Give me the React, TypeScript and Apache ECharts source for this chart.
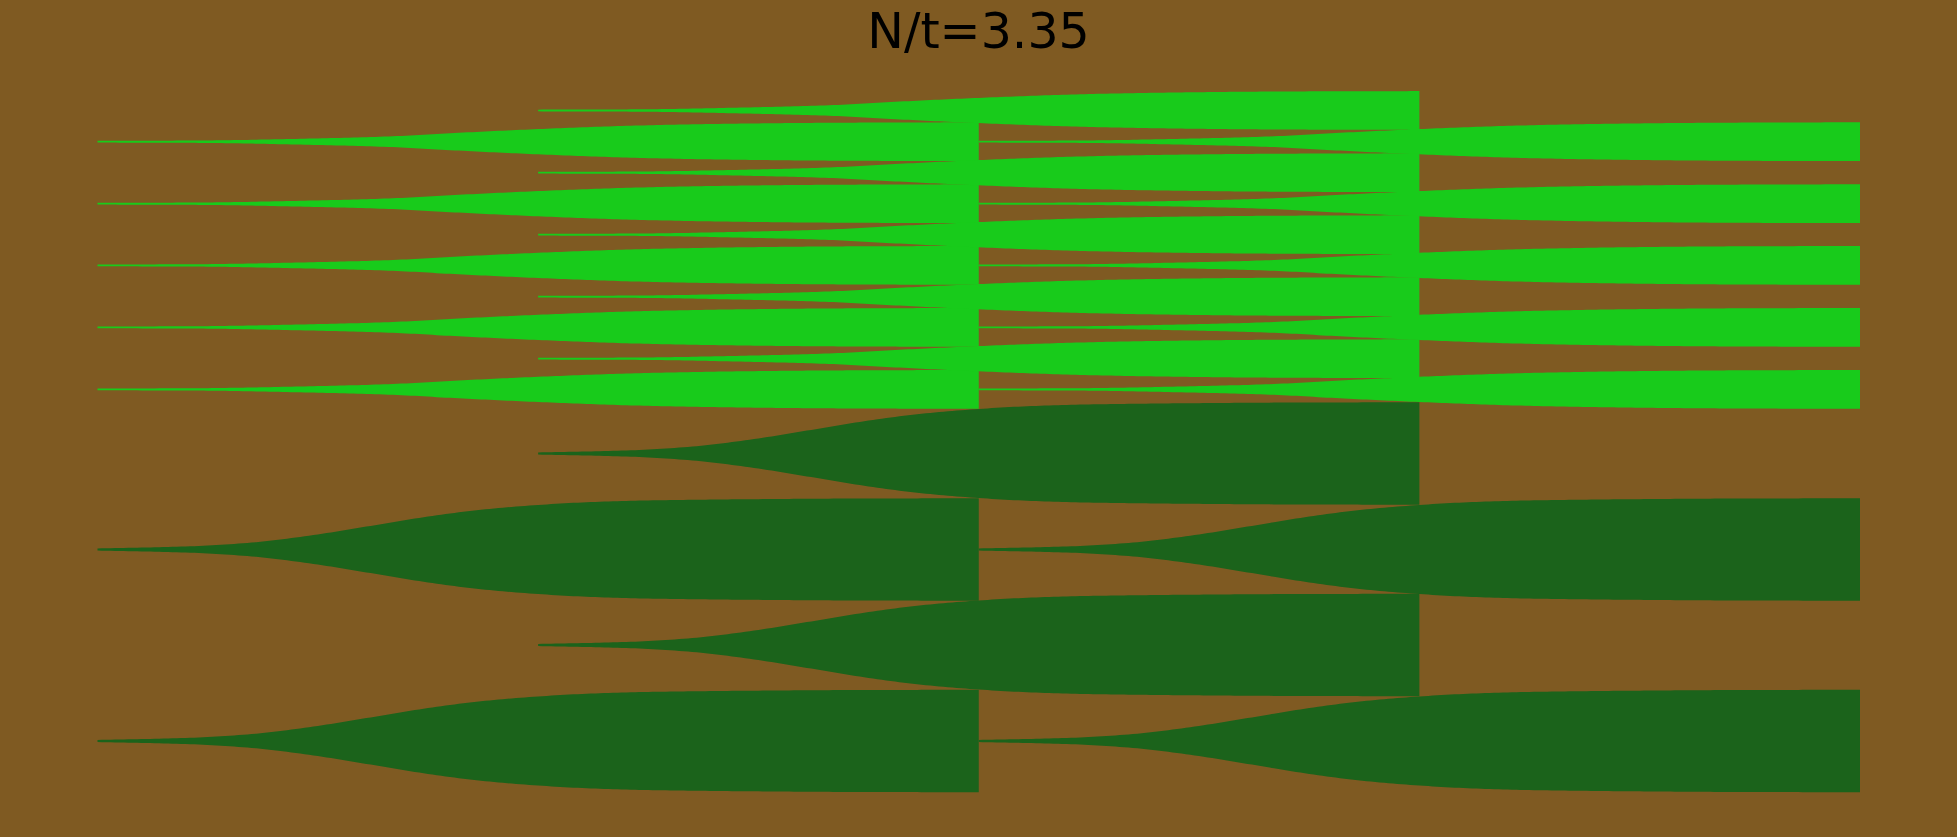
import React, { useEffect, useRef } from "react";
import * as echarts from "echarts";

// Generation boundaries (time axis, hidden)
const generationTimes = [0, 1, 2, 3, 4];
// Lineage start times for each phase
const evenStarts = [0, 2];
const oddStarts = [1];
const lineageSpan = 2;

// Vertical centres (value-axis units) of each lineage
const lightCentersEven = [141.7, 203.7, 265.4, 327.4, 389.4];
const lightCentersOdd = [110.5, 172.7, 234.7, 296.7, 358.7];
const darkCentersEven = [549.5, 741];
const darkCentersOdd = [453.5, 645];

// Final half-thickness of each kind of lineage
const lightHalfHeight = 19.4;
const darkHalfHeight = 51.2;

// Growth profile (share of final thickness) read at fractions of the lifespan
const lightProfileF = [0, 0.11, 0.24, 0.33, 0.41, 0.5, 0.61, 0.71, 0.81, 0.9, 1];
const lightProfileP = [0.045, 0.06, 0.16, 0.27, 0.46, 0.65, 0.83, 0.92, 0.97, 0.99, 1];
const darkProfileF = [0, 0.11, 0.175, 0.24, 0.306, 0.37, 0.435, 0.5, 0.565, 0.63, 0.76, 0.88, 1];
const darkProfileP = [0.02, 0.065, 0.136, 0.27, 0.45, 0.63, 0.775, 0.87, 0.93, 0.96, 0.985, 0.997, 1];

const titleText = "N/t=3.35";
const colors = { bg: "#7f5a22", light: "#18cb1b", dark: "#1b631b" };

function monotone(xs: number[], ys: number[], x: number): number {
  const n = xs.length;
  if (x <= xs[0]) return ys[0];
  if (x >= xs[n - 1]) return ys[n - 1];
  const d: number[] = [];
  for (let i = 0; i < n - 1; i++) d.push((ys[i + 1] - ys[i]) / (xs[i + 1] - xs[i]));
  const m: number[] = [d[0]];
  for (let i = 1; i < n - 1; i++) {
    if (d[i - 1] * d[i] <= 0) m.push(0);
    else {
      const w1 = 2 * (xs[i + 1] - xs[i]) + (xs[i] - xs[i - 1]);
      const w2 = (xs[i + 1] - xs[i]) + 2 * (xs[i] - xs[i - 1]);
      m.push((w1 + w2) / (w1 / d[i - 1] + w2 / d[i]));
    }
  }
  m.push(d[n - 2]);
  let k = 0;
  while (k < n - 2 && x > xs[k + 1]) k++;
  const h = xs[k + 1] - xs[k];
  const t = (x - xs[k]) / h;
  const t2 = t * t, t3 = t2 * t;
  return (
    (2 * t3 - 3 * t2 + 1) * ys[k] +
    (t3 - 2 * t2 + t) * h * m[k] +
    (-2 * t3 + 3 * t2) * ys[k + 1] +
    (t3 - t2) * h * m[k + 1]
  );
}

function buildLineages() {
  const rows: number[][] = [];
  const add = (starts: number[], centers: number[], half: number, kind: number) => {
    starts.forEach((s) => centers.forEach((c) => rows.push([s, s + lineageSpan, c, half, kind])));
  };
  add(evenStarts, lightCentersEven, lightHalfHeight, 0);
  add(oddStarts, lightCentersOdd, lightHalfHeight, 0);
  add(evenStarts, darkCentersEven, darkHalfHeight, 1);
  add(oddStarts, darkCentersOdd, darkHalfHeight, 1);
  return rows;
}

export default function App() {
  const ref = useRef<HTMLDivElement>(null);
  useEffect(() => {
    document.body.style.margin = "0";
    document.body.style.background = colors.bg;
    const chart = echarts.init(ref.current!, null, { renderer: "svg" });
    chart.setOption({
      animation: false,
      backgroundColor: colors.bg,
      grid: { left: 97.5, right: 97, top: 0, bottom: 0 },
      xAxis: {
        type: "value",
        min: generationTimes[0],
        max: generationTimes[generationTimes.length - 1],
        show: false,
      },
      yAxis: { type: "value", min: 0, max: 837, inverse: true, show: false },
      graphic: [
        {
          type: "text",
          x: 978.5,
          y: 31,
          style: {
            text: titleText,
            fill: "#000",
            font: '49px "DejaVu Sans"',
            align: "center",
            verticalAlign: "middle",
          },
        },
      ],
      series: [
        {
          type: "custom",
          coordinateSystem: "cartesian2d",
          data: buildLineages(),
          clip: false,
          renderItem: (params: any, api: any) => {
            const t0 = api.value(0);
            const t1 = api.value(1);
            const c = api.value(2);
            const h = api.value(3);
            const kind = api.value(4);
            const F = kind === 0 ? lightProfileF : darkProfileF;
            const P = kind === 0 ? lightProfileP : darkProfileP;
            const N = 200;
            const top: number[][] = [];
            const bot: number[][] = [];
            for (let i = 0; i <= N; i++) {
              const f = i / N;
              const p = monotone(F, P, f);
              const x = t0 + f * (t1 - t0);
              top.push(api.coord([x, c - h * p]));
              bot.push(api.coord([x, c + h * p]));
            }
            const points = top.concat(bot.reverse());
            return {
              type: "polygon",
              shape: { points },
              style: { fill: kind === 0 ? colors.light : colors.dark },
            };
          },
        },
      ],
    });
    return () => chart.dispose();
  }, []);
  return (
    <div
      ref={ref}
      style={{ position: "absolute", left: 0, top: 0, width: 1957, height: 837 }}
    />
  );
}
